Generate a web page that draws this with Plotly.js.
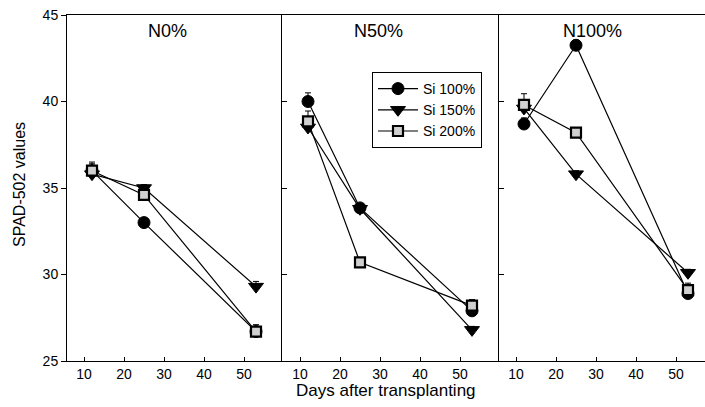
<!DOCTYPE html>
<html>
<head>
<meta charset="utf-8">
<script src="https://cdn.plot.ly/plotly-3.0.1.min.js"></script>
<style>html,body{margin:0;padding:0;background:#fff;}#chart{width:705px;height:407px;}</style>
</head>
<body>
<div id="chart"></div>
<script>
// ---- data ----
const days = [12, 25, 53];
const panelTitles = ["N0%", "N50%", "N100%"];
const seriesNames = ["Si 100%", "Si 150%", "Si 200%"];
const yTickVals = [25, 30, 35, 40, 45];
const xTickVals = [10, 20, 30, 40, 50];

const n0_si100 = [36.0, 33.0, 26.7];
const n0_si150 = [35.8, 35.0, 29.3];
const n0_si200 = [36.0, 34.6, 26.7];
const n50_si100 = [40.0, 33.85, 27.9];
const n50_si150 = [38.5, 33.8, 26.8];
const n50_si200 = [38.85, 30.7, 28.2];
const n100_si100 = [38.7, 43.25, 28.9];
const n100_si150 = [39.6, 35.8, 30.1];
const n100_si200 = [39.8, 38.2, 29.1];

// upper standard errors
const n0_err100 = [0.4, 0.1, 0.2];
const n0_err150 = [0.3, 0.2, 0.3];
const n0_err200 = [0.5, 0.2, 0.4];
const n50_err100 = [0.5, 0.2, 0.3];
const n50_err150 = [0.3, 0.2, 0.2];
const n50_err200 = [0.6, 0.2, 0.35];
const n100_err100 = [0.35, 0.3, 0.3];
const n100_err150 = [0.2, 0.2, 0.2];
const n100_err200 = [0.65, 0.2, 0.4];

const panels = [
  [n0_si100, n0_si150, n0_si200],
  [n50_si100, n50_si150, n50_si200],
  [n100_si100, n100_si150, n100_si200]
];
const panelErr = [
  [n0_err100, n0_err150, n0_err200],
  [n50_err100, n50_err150, n50_err200],
  [n100_err100, n100_err150, n100_err200]
];

// ---- styles ----
const markerStyles = [
  {symbol: "circle", size: 12, color: "#000", line: {color: "#000", width: 1}},
  {symbol: "triangle-down", size: 13, color: "#000", line: {color: "#000", width: 1}},
  {symbol: "square", size: 10, color: "#d0d0d0", line: {color: "#000", width: 2.2}}
];

const W = 705, H = 407;
const TOP = 15, BOT = 361;
function py(y) { return 1 - (y - TOP) / (BOT - TOP); }
const domains = [[67 / W, 282 / W], [282 / W, 499 / W], [499 / W, 1]];
const xRanges = [[5.75, 59.5], [5.5, 59.75], [5.75, 57.25]];

const traces = [];
panels.forEach((series, p) => {
  series.forEach((vals, s) => {
    traces.push({
      x: days, y: vals,
      type: "scatter", mode: "lines+markers",
      name: seriesNames[s],
      legendgroup: seriesNames[s],
      showlegend: p === 1,
      xaxis: p === 0 ? "x" : "x" + (p + 1),
      yaxis: p === 0 ? "y" : "y" + (p + 1),
      line: {color: "#000", width: 1.2},
      marker: markerStyles[s],
      error_y: {type: "data", symmetric: false, array: panelErr[p][s],
                arrayminus: [0, 0, 0], color: "#000", thickness: 1, width: 3}
    });
  });
});

const font = {family: "Liberation Sans, Arial, sans-serif", color: "#000"};
const layout = {
  width: W, height: H,
  margin: {l: 0, r: 0, t: TOP, b: H - BOT},
  paper_bgcolor: "#fff", plot_bgcolor: "#fff",
  font: font,
  showlegend: true,
  legend: {
    x: 372 / W, y: py(72), xref: "paper", yref: "paper",
    xanchor: "left", yanchor: "top",
    bordercolor: "#000", borderwidth: 1, bgcolor: "#fff",
    font: {family: font.family, size: 14, color: "#000"},
    itemwidth: 40, tracegroupgap: 0
  },
  annotations: [],
  shapes: []
};

for (let p = 0; p < 3; p++) {
  const xk = p === 0 ? "xaxis" : "xaxis" + (p + 1);
  const yk = p === 0 ? "yaxis" : "yaxis" + (p + 1);
  const ya = p === 0 ? "y" : "y" + (p + 1);
  const xa = p === 0 ? "x" : "x" + (p + 1);
  layout[xk] = {
    domain: domains[p], range: xRanges[p], anchor: ya,
    tickvals: xTickVals, ticks: "inside", ticklen: 4, tickcolor: "#000",
    showline: true, linecolor: "#000", linewidth: 1, mirror: true,
    showgrid: false, zeroline: false,
    tickfont: {family: font.family, size: 14, color: "#000"}
  };
  layout[yk] = {
    domain: [0, 1], range: [25, 45], anchor: xa,
    tickvals: yTickVals, ticks: p === 0 ? "outside" : "inside", ticklen: 5, tickcolor: "#000",
    showticklabels: p === 0,
    showline: true, linecolor: "#000", linewidth: p === 0 ? 1 : 1.5,
    showgrid: false, zeroline: false,
    tickfont: {family: font.family, size: 14, color: "#000"}
  };
}

const titleX = [167, 378, 592];
panelTitles.forEach((t, p) => {
  layout.annotations.push({
    text: t, xref: "paper", yref: "paper",
    x: titleX[p] / W, y: py(31), xanchor: "center", yanchor: "middle",
    showarrow: false, font: {family: font.family, size: 18, color: "#000"}
  });
});
layout.annotations.push({
  text: "Days after transplanting", xref: "paper", yref: "paper",
  x: 386 / W, y: py(391), xanchor: "center", yanchor: "middle",
  showarrow: false, font: {family: font.family, size: 17, color: "#000"}
});
layout.annotations.push({
  text: "SPAD-502 values", xref: "paper", yref: "paper",
  x: 19 / W, y: py(185), xanchor: "center", yanchor: "middle", textangle: -90,
  showarrow: false, font: {family: font.family, size: 16, color: "#000"}
});

Plotly.newPlot("chart", traces, layout, {displayModeBar: false, staticPlot: true});
</script>
</body>
</html>
